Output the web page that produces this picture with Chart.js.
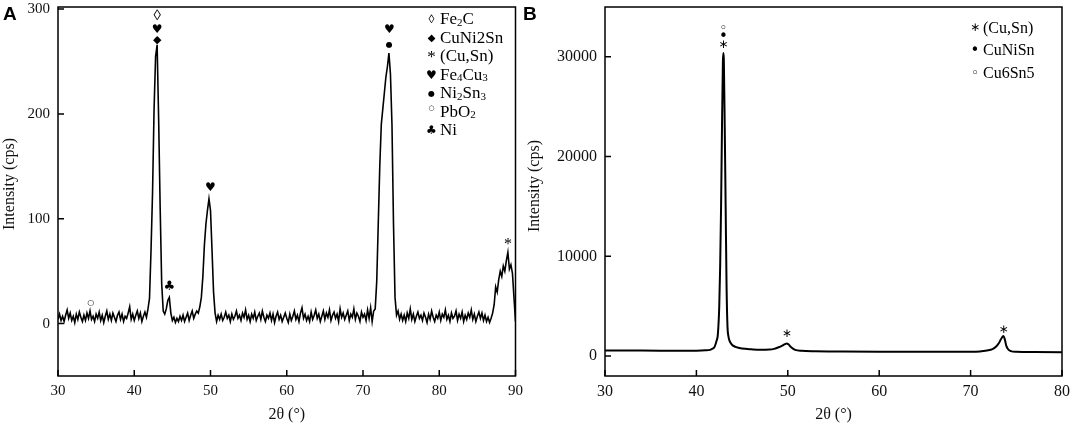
<!DOCTYPE html>
<html>
<head>
<meta charset="utf-8">
<script src="https://cdn.jsdelivr.net/npm/chart.js@4.4.1/dist/chart.umd.min.js"></script>
<style>
  body { margin: 0; background: #fff; width: 1072px; height: 429px; position: relative; overflow: hidden; }
  canvas { position: absolute; top: 0; }
  #chartA { left: 0; }
  #chartB { left: 522px; }
</style>
</head>
<body>
<canvas id="chartA" width="530" height="429"></canvas>
<canvas id="chartB" width="550" height="429"></canvas>
<script>
// Panel A: XRD scan 30-90 deg, read every 0.2 deg
const scanStartA = 30;
const scanStepA = 0.2;
const countsA = [
  4, 9, 3, 7, 2, 8, 13, 5, 10, 3,
  7, 1, 9, 4, 11, 6, 2, 8, 3, 10,
  5, 12, 4, 7, 2, 9, 5, 11, 3, 8,
  1, 7, 12, 4, 9, 3, 10, 6, 2, 8,
  11, 4, 9, 2, 7, 5, 10, 16, 4, 9,
  3, 8, 12, 5, 10, 2, 7, 11, 6, 14,
  24, 70, 125, 205, 255, 266, 195, 110, 38, 12,
  9, 14, 22, 25, 10, 3, 6, 1, 5, 2,
  7, 3, 8, 2, 6, 10, 3, 8, 12, 5,
  9, 12, 10, 16, 25, 45, 75, 95, 108, 119,
  108, 70, 30, 10, 2, 8, 4, 9, 3, 6,
  11, 5, 8, 2, 9, 4, 7, 12, 5, 8,
  3, 10, 6, 13, 4, 8, 2, 9, 5, 11,
  3, 7, 10, 4, 12, 6, 2, 8, 5, 10,
  3, 9, 1, 7, 11, 4, 8, 2, 6, 10,
  5, 1, 9, 3, 7, 12, 4, 8, 2, 10,
  15, 5, 9, 3, 7, 2, 11, 4, 8, 13,
  5, 9, 2, 7, 12, 4, 10, 6, 13, 3,
  8, 11, 5, 9, 2, 14, 6, 10, 4, 8,
  12, 3, 9, 6, 14, 4, 10, 7, 2, 11,
  6, 9, 3, 13, 5, 15, 2, 12, 14, 40,
  95, 150, 190, 205, 220, 235, 245, 258, 238, 190,
  95, 25, 8, 12, 4, 9, 3, 8, 2, 10,
  5, 14, 4, 9, 2, 7, 11, 5, 8, 3,
  10, 6, 1, 9, 4, 12, 6, 2, 8, 5,
  11, 3, 9, 6, 13, 4, 8, 2, 10, 5,
  7, 12, 3, 9, 5, 11, 2, 8, 4, 10,
  6, 13, 4, 9, 2, 7, 11, 5, 10, 3,
  8, 2, 6, 1, 5, 10, 18, 35, 30, 42,
  50, 45, 55, 50, 60, 68, 52, 56, 48, 25,
  2
];
const ticksXA = [30, 40, 50, 60, 70, 80, 90];
const ticksYA = [0, 100, 200, 300];
const peakThetaA = [43.0, 43.0, 43.0, 44.6, 50.0, 73.45, 73.45, 89.0, 34.3];
const peakCountsA = [293, 280, 270, 35, 129, 280, 266, 78, 20];
const peakSymA = ['◊', '♥', '◆', '♣', '♥', '♥', '●', '*', '○'];
const legendSymA = ['◊', '◆', '*', '♥', '●', '○', '♣'];
const legendTextA = ['Fe_2C', 'CuNi2Sn', '(Cu,Sn)', 'Fe_4Cu_3', 'Ni_2Sn_3', 'PbO_2', 'Ni'];

// Panel B
const thetaB = [30, 32, 34, 36, 38, 40, 41, 41.5, 41.8,
  42.0, 42.2, 42.35, 42.5, 42.6, 42.7, 42.8, 42.9, 42.95,
  43.0, 43.1, 43.2, 43.3, 43.4, 43.5, 43.6, 43.8,
  44.0, 44.5, 45, 46, 47, 48, 48.5,
  49, 49.4, 49.7, 49.9, 50.1, 50.4, 50.8, 51.5,
  53, 56, 60, 64, 68, 70, 71,
  71.8, 72.4, 72.8, 73.1, 73.3, 73.5, 73.6, 73.75, 73.9, 74.1, 74.4,
  75, 77, 80];
const countsB = [560, 550, 545, 540, 535, 540, 570, 620, 750,
  950, 1500, 2200, 5000, 9000, 15000, 23000, 29500, 30400,
  29800, 23000, 15000, 7000, 3000, 2000, 1600, 1250,
  1050, 850, 760, 680, 630, 650, 720,
  880, 1050, 1200, 1270, 1150, 850, 620, 520,
  480, 460, 440, 430, 425, 430, 460,
  560, 700, 950, 1300, 1650, 1950, 2000, 1650, 1050, 680, 490,
  420, 400, 390];
const ticksXB = [30, 40, 50, 60, 70, 80];
const ticksYB = [0, 10000, 20000, 30000];
const peakThetaB = [42.95, 42.95, 42.95, 49.9, 73.6];
const peakCountsB = [32800, 31970, 31230, 2180, 2650];
const peakSymB = ['◦', '•', '∗', '∗', '∗'];
const legendSymB = ['∗', '•', '◦'];
const legendTextB = ['(Cu,Sn)', 'CuNiSn', 'Cu6Sn5'];

const SERIF = '"Liberation Serif", "DejaVu Serif", serif';
const SYM = '"DejaVu Sans", sans-serif';
// glyph sizes for the peak markers
const markStyle = {
  '◊': { font: '15px ' + SERIF, dy: 0 },
  '◆': { font: '11px ' + SYM, dy: 0 },
  '*': { font: '16px ' + SERIF, dy: 3 },
  '♥': { font: '12px ' + SYM, dy: 0 },
  '●': { font: '8px ' + SYM, dy: 0 },
  '○': { font: '8px ' + SYM, dy: 0 },
  '♣': { font: '13px ' + SYM, dy: 0 },
  '◦': { font: '13px ' + SYM, dy: 0 },
  '•': { font: '15px ' + SYM, dy: 0 },
  '∗': { font: '12px ' + SYM, dy: 0 }
};
// glyph sizes for the legend
const legendStyle = {
  '◊': { font: '12px ' + SERIF, dy: 0 },
  '◆': { font: '10px ' + SYM, dy: 0 },
  '*': { font: '17px ' + SERIF, dy: 1 },
  '♥': { font: '12px ' + SYM, dy: 0 },
  '●': { font: '8px ' + SYM, dy: 0 },
  '○': { font: '7px ' + SYM, dy: -4 },
  '♣': { font: '12px ' + SYM, dy: 0 },
  '◦': { font: '13px ' + SYM, dy: 0 },
  '•': { font: '15px ' + SYM, dy: 0 },
  '∗': { font: '12px ' + SYM, dy: 0 }
};

// text with "_" marking the next char as subscript
function drawRich(ctx, str, x, y, size) {
  ctx.textAlign = 'left';
  ctx.textBaseline = 'middle';
  let cx = x;
  for (let i = 0; i < str.length; i++) {
    let ch = str[i];
    if (ch === '_') {
      ch = str[++i];
      ctx.font = Math.round(size * 0.62) + 'px ' + SERIF;
      ctx.fillText(ch, cx, y + 3);
    } else {
      ctx.font = size + 'px ' + SERIF;
      ctx.fillText(ch, cx, y);
    }
    cx += ctx.measureText(ch).width;
  }
}

const decorPlugin = {
  id: 'decor',
  afterDatasetsDraw(chart, args, opts) {
    const ctx = chart.ctx;
    const a = chart.chartArea;
    const xs = chart.scales.x, ys = chart.scales.y;
    ctx.save();
    ctx.strokeStyle = '#000';
    ctx.fillStyle = '#000';
    ctx.lineWidth = 1.5;
    ctx.strokeRect(a.left, a.top, a.right - a.left, a.bottom - a.top);
    // inward ticks
    ctx.beginPath();
    opts.ticksX.forEach(v => {
      const px = xs.getPixelForValue(v);
      ctx.moveTo(px, a.bottom);
      ctx.lineTo(px, a.bottom - 6);
    });
    opts.ticksY.forEach(v => {
      const py = ys.getPixelForValue(v);
      ctx.moveTo(a.left, py);
      ctx.lineTo(a.left + 6, py);
    });
    ctx.stroke();
    // peak markers
    ctx.textAlign = 'center';
    ctx.textBaseline = 'middle';
    opts.markX.forEach((t, i) => {
      const st = markStyle[opts.markSym[i]];
      ctx.font = st.font;
      ctx.fillText(opts.markSym[i], xs.getPixelForValue(t), ys.getPixelForValue(opts.markY[i]) + st.dy);
    });
    // legend
    opts.legendSym.forEach((s, i) => {
      const y = opts.legendTop + i * opts.legendGap;
      const st = legendStyle[s];
      ctx.textAlign = 'center';
      ctx.textBaseline = 'middle';
      ctx.font = st.font;
      ctx.fillText(s, opts.legendX, y + st.dy);
      drawRich(ctx, opts.legendText[i], opts.legendX + opts.legendTextGap, y, opts.legendSize);
    });
    // y axis title (sits a little above the plot centre in the original)
    ctx.save();
    ctx.translate(opts.yTitleX, opts.yTitleY);
    ctx.rotate(-Math.PI / 2);
    ctx.font = '16px ' + SERIF;
    ctx.fillStyle = '#111';
    ctx.textAlign = 'center';
    ctx.textBaseline = 'middle';
    ctx.fillText('Intensity (cps)', 0, 0);
    ctx.restore();
    // panel letter
    ctx.font = 'bold 19px "Liberation Sans", Arial, sans-serif';
    ctx.textAlign = 'left';
    ctx.textBaseline = 'alphabetic';
    ctx.fillText(opts.letter, opts.letterX, 20);
    ctx.restore();
  }
};

function makeChart(id, points, cfg) {
  return new Chart(document.getElementById(id), {
    type: 'line',
    data: {
      datasets: [{
        data: points,
        borderColor: '#000',
        borderWidth: cfg.lineWidth,
        pointRadius: 0,
        tension: 0,
        cubicInterpolationMode: cfg.smooth ? 'monotone' : 'default',
        fill: false
      }]
    },
    options: {
      responsive: false,
      animation: false,
      events: [],
      layout: { padding: { left: 0, top: 7, right: cfg.padRight, bottom: 0 } },
      plugins: {
        legend: { display: false },
        tooltip: { enabled: false },
        decor: cfg.decor
      },
      scales: {
        x: {
          type: 'linear',
          min: cfg.xMin, max: cfg.xMax,
          grid: { display: false, drawTicks: false },
          border: { display: false },
          afterBuildTicks: s => { s.ticks = cfg.decor.ticksX.map(v => ({ value: v })); },
          afterFit: s => { s.height = 53; s.paddingLeft = 0; s.paddingRight = 0; },
          ticks: { autoSkip: false, maxRotation: 0, padding: 6, color: '#111', font: { family: SERIF, size: cfg.tickSize } },
          title: { display: true, text: '2θ (°)', color: '#111', padding: { top: 0, bottom: 5 }, font: { family: SERIF, size: 16 } }
        },
        y: {
          type: 'linear',
          min: cfg.yMin, max: cfg.yMax,
          grid: { display: false, drawTicks: false },
          border: { display: false },
          afterBuildTicks: s => { s.ticks = cfg.decor.ticksY.map(v => ({ value: v })); },
          afterFit: s => { s.width = cfg.yAxisWidth; s.paddingTop = 0; s.paddingBottom = 0; },
          ticks: { autoSkip: false, padding: 8, color: '#111', callback: v => String(v), font: { family: SERIF, size: cfg.tickSize } },
          title: { display: false }
        }
      }
    },
    plugins: [decorPlugin]
  });
}

const pointsA = countsA.map((c, i) => ({ x: +(scanStartA + i * scanStepA).toFixed(1), y: c }));
const pointsB = thetaB.map((t, i) => ({ x: t, y: countsB[i] }));

makeChart('chartA', pointsA, {
  lineWidth: 1.6, padRight: 14.5, xMin: 30, xMax: 90, yMin: -50, yMax: 302,
  tickSize: 15, yAxisWidth: 58, smooth: false,
  decor: {
    ticksX: ticksXA, ticksY: ticksYA,
    markX: peakThetaA, markY: peakCountsA, markSym: peakSymA,
    legendSym: legendSymA, legendText: legendTextA,
    legendX: 431.5, legendTextGap: 8.5, legendTop: 20, legendGap: 18.5, legendSize: 17,
    yTitleX: 9.5, yTitleY: 184,
    letter: 'A', letterX: 3
  }
});

makeChart('chartB', pointsB, {
  lineWidth: 2, padRight: 10, xMin: 30, xMax: 80, yMin: -2000, yMax: 35000,
  tickSize: 16, yAxisWidth: 83, smooth: true,
  decor: {
    ticksX: ticksXB, ticksY: ticksYB,
    markX: peakThetaB, markY: peakCountsB, markSym: peakSymB,
    legendSym: legendSymB, legendText: legendTextB,
    legendX: 453, legendTextGap: 8, legendTop: 28.3, legendGap: 22.5, legendSize: 16,
    yTitleX: 13, yTitleY: 186,
    letter: 'B', letterX: 1
  }
});
</script>
</body>
</html>
